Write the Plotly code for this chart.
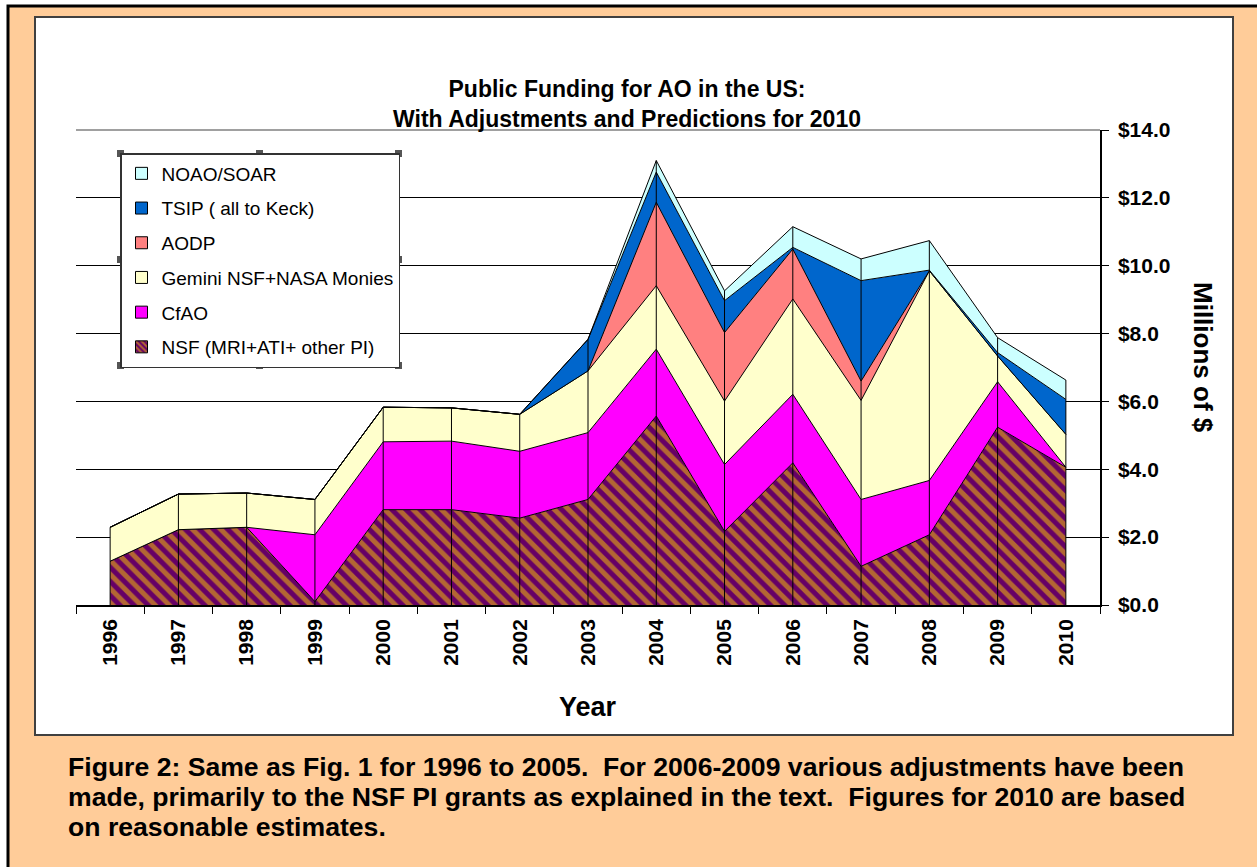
import plotly.graph_objects as go

# ---- data (millions of $) ----
years = ["1996", "1997", "1998", "1999", "2000", "2001", "2002", "2003",
         "2004", "2005", "2006", "2007", "2008", "2009", "2010"]
nsf    = [1.29, 2.22, 2.29, 0.10, 2.81, 2.81, 2.56, 3.11, 5.57, 2.17, 4.19, 1.14, 2.07, 5.24, 4.06]
cfao   = [0.00, 0.00, 0.00, 1.97, 2.00, 2.02, 1.97, 1.97, 1.97, 1.97, 2.02, 1.97, 1.60, 1.34, 0.00]
gemini = [1.00, 1.05, 1.01, 1.04, 1.02, 0.98, 1.09, 1.82, 1.87, 1.87, 2.81, 2.92, 6.18, 0.76, 0.97]
aodp   = [0.00, 0.00, 0.00, 0.00, 0.00, 0.00, 0.00, 0.00, 2.46, 2.02, 1.47, 0.57, 0.00, 0.00, 0.00]
tsip   = [0.00, 0.00, 0.00, 0.00, 0.00, 0.00, 0.00, 0.93, 0.89, 0.94, 0.05, 2.96, 0.02, 0.10, 1.03]
noao   = [0.00, 0.00, 0.00, 0.00, 0.00, 0.00, 0.00, 0.00, 0.34, 0.29, 0.61, 0.64, 0.87, 0.44, 0.57]

series_names = ["NSF (MRI+ATI+ other PI)", "CfAO", "Gemini NSF+NASA Monies",
                "AODP", "TSIP ( all to Keck)", "NOAO/SOAR"]
series_values = [nsf, cfao, gemini, aodp, tsip, noao]
series_colors = ["#660066", "#FF00FF", "#FFFFCC", "#FF8080", "#0066CC", "#CCFFFF"]

title_text = "Public Funding for AO in the US:<br>With Adjustments and Predictions for 2010"
caption_lines = [
    "Figure 2: Same as Fig. 1 for 1996 to 2005.\u00a0 For 2006-2009 various adjustments have been",
    "made, primarily to the NSF PI grants as explained in the text.\u00a0 Figures for 2010 are based",
    "on reasonable estimates.",
]

FONT = "Liberation Sans, Arial, sans-serif"
NSF_PATTERN = dict(shape="\\", fgcolor="#FFCC00", bgcolor="#660066", size=10, solidity=0.5)

# ---- layout geometry (pixels) ----
W, H = 1257, 867
PL, PR, PT, PB = 76, 1100, 130, 605


def px(x):
    return (x - PL) / (PR - PL)


def py(y):
    return (PB - y) / (PB - PT)


fig = go.Figure()

for name, vals, col in zip(series_names, series_values, series_colors):
    kw = dict(fillcolor=col)
    if name.startswith("NSF"):
        kw["fillpattern"] = NSF_PATTERN
    fig.add_trace(go.Scatter(
        x=years, y=vals, name=name, mode="lines", stackgroup="one",
        showlegend=False, line=dict(color="black", width=1),
        hoverinfo="x+y+name", **kw))

# drop lines at each category, from 0 to stacked total
totals = [sum(v[i] for v in series_values) for i in range(len(years))]
dx, dy = [], []
for yr, t in zip(years, totals):
    dx += [yr, yr, None]
    dy += [0, t, None]
fig.add_trace(go.Scatter(x=dx, y=dy, mode="lines", line=dict(color="black", width=1),
                         showlegend=False, hoverinfo="skip"))

# legend entries (square swatches), top entry = top of stack
for name, col in reversed(list(zip(series_names, series_colors))):
    marker = dict(color=col, line=dict(color="black", width=1))
    if name.startswith("NSF"):
        marker["pattern"] = dict(shape="\\", fgcolor="#FFCC00", bgcolor="#660066",
                                 size=5, solidity=0.5)
    fig.add_trace(go.Bar(x=[None], y=[None], name=name, marker=marker,
                         legendgroup=name, showlegend=True, hoverinfo="skip"))

shapes = [
    # peach page with black border
    dict(type="rect", xref="paper", yref="paper", x0=px(8), x1=px(1300), y0=py(6), y1=py(900),
         fillcolor="#FFCC99", line=dict(color="black", width=3), layer="below"),
    # white chart box
    dict(type="rect", xref="paper", yref="paper", x0=px(35), x1=px(1233), y0=py(17), y1=py(735),
         fillcolor="white", line=dict(color="#404040", width=2), layer="below"),
    # softer top edge of plot area
    dict(type="line", xref="paper", yref="paper", x0=0, x1=1, y0=1, y1=1,
         line=dict(color="#808080", width=1.5), layer="above"),
]
# selection handles around legend
LX0, LX1, LY0, LY1 = 120, 398, 153, 365
for hx, hy in [(LX0, LY0), ((LX0 + LX1) / 2, LY0), (LX1, LY0), (LX0, (LY0 + LY1) / 2),
               (LX1, (LY0 + LY1) / 2), (LX0, LY1), ((LX0 + LX1) / 2, LY1), (LX1, LY1)]:
    shapes.append(dict(type="rect", xref="paper", yref="paper",
                       x0=px(hx - 3), x1=px(hx + 4), y0=py(hy - 3), y1=py(hy + 4),
                       fillcolor="#555555", line=dict(width=0), layer="above"))

annotations = [
    dict(text="<b>" + title_text + "</b>", x=px(627), y=py(104), xref="paper", yref="paper",
         showarrow=False, font=dict(size=23, family=FONT, color="black"), xanchor="center",
         yanchor="middle"),
    dict(text="<b>Millions of $</b>", textangle=90, x=px(1203), y=py(357), xref="paper",
         yref="paper", showarrow=False, font=dict(size=26, family=FONT, color="black"),
         xanchor="center", yanchor="middle"),
    dict(text="<b>Year</b>", x=px(588), y=py(707), xref="paper", yref="paper",
         showarrow=False, font=dict(size=27, family=FONT, color="black"),
         xanchor="center", yanchor="middle"),
]
for i, line in enumerate(caption_lines):
    annotations.append(dict(text="<b>" + line + "</b>", x=px(66), y=py(767 + 30 * i),
                            xref="paper", yref="paper", showarrow=False, align="left",
                            font=dict(size=26.6, family=FONT, color="black"),
                            xanchor="left", yanchor="middle"))

fig.update_layout(
    width=W, height=H,
    margin=dict(l=PL, r=W - PR, t=PT, b=H - PB, pad=0),
    paper_bgcolor="white",
    plot_bgcolor="#C0C0C0",
    font=dict(family=FONT, color="black"),
    showlegend=True,
    legend=dict(x=px(LX0), y=py(LY0), xanchor="left", yanchor="top",
                bgcolor="white", bordercolor="#333333", borderwidth=1.5,
                font=dict(size=19, family=FONT, color="black"),
                traceorder="grouped", tracegroupgap=7, itemwidth=30),
    xaxis=dict(type="category", tickson="boundaries", ticks="outside", ticklen=7,
               tickcolor="black", showline=True, linecolor="black", linewidth=1.5,
               tickangle=-90, showgrid=False, ticklabelstandoff=4,
               tickfont=dict(size=21, family=FONT, color="black", weight="bold"),
               range=[-0.5, 14.5]),
    yaxis=dict(side="right", range=[0, 14], dtick=2, tickprefix="$", tickformat=".1f",
               ticks="outside", ticklen=7, tickcolor="black", showline=True,
               linecolor="black", linewidth=1.5, showgrid=True, gridcolor="black",
               gridwidth=1, zeroline=False, ticklabelstandoff=5,
               tickfont=dict(size=21, family=FONT, color="black", weight="bold")),
    shapes=shapes,
    annotations=annotations,
)

fig.write_html("out.html", config={"displayModeBar": False},
               post_script="document.body.style.margin='0';")
